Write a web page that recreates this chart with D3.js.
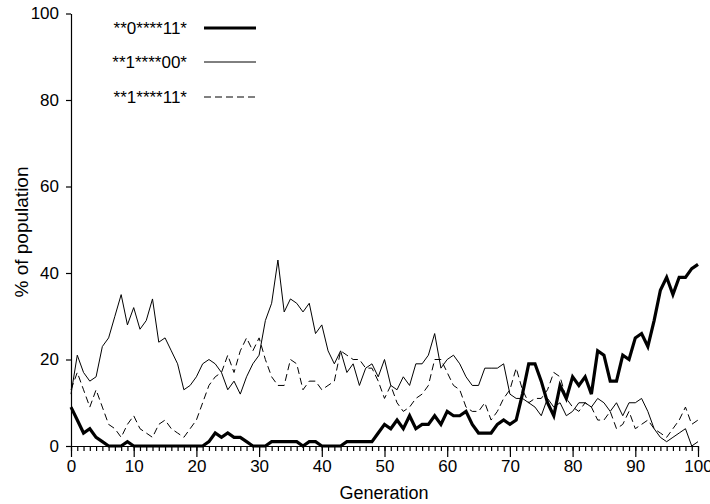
<!DOCTYPE html>
<html>
<head>
<meta charset="utf-8">
<script src="https://cdn.jsdelivr.net/npm/d3@7"></script>
<style>
  body { margin: 0; background: #fff; }
  text { font-family: "Liberation Sans", Arial, sans-serif; fill: #000; }
</style>
</head>
<body>
<svg width="710" height="504"></svg>
<script>
// generations 0..100
var generations = d3.range(0, 101);

// % of population per generation
var s0xx11 = [9,6,3,4,2,1,0,0,0,1,
  0,0,0,0,0,0,0,0,0,0,
  0,0,1,3,2,3,2,2,1,0,
  0,0,1,1,1,1,1,0,1,1,
  0,0,0,0,1,1,1,1,1,3,
  5,4,6,4,7,4,5,5,7,5,
  8,7,7,8,5,3,3,3,5,6,
  5,6,12,19,19,15,10,7,14,11,
  16,14,16,12,22,21,15,15,21,20,
  25,26,23,29,36,39,35,39,39,41,
  42];

var s1xx00 = [12,21,17,15,16,23,25,30,35,28,
  32,27,29,34,24,25,22,19,13,14,
  16,19,20,19,17,13,15,12,16,19,
  21,29,33,43,31,34,33,31,33,26,
  28,22,19,22,17,19,14,18,19,16,
  20,14,13,16,14,19,19,21,26,18,
  20,21,19,16,14,14,18,18,18,19,
  12,11,11,10,9,7,11,9,10,7,
  8,10,10,9,11,10,8,10,7,10,
  10,11,8,4,2,1,2,3,4,0,
  1];

var s1xx11 = [13,17,13,9,13,9,5,4,2,5,
  7,4,3,2,5,6,4,3,2,4,
  6,10,14,16,17,21,17,22,25,22,
  25,20,16,14,14,20,19,13,15,15,
  13,14,15,22,21,20,20,18,18,15,
  11,14,10,8,9,11,12,14,20,20,
  17,14,13,9,8,8,10,6,8,11,
  13,18,13,10,11,11,13,17,16,11,
  9,8,10,9,6,6,8,4,5,8,
  4,5,6,4,3,2,4,6,9,5,
  6];

var seriesNames = ["**0****11*", "**1****00*", "**1****11*"];
var yTicks = [0, 20, 40, 60, 80, 100];
var xTicks = [0, 10, 20, 30, 40, 50, 60, 70, 80, 90, 100];

var svg = d3.select("svg");

var x = d3.scaleLinear().domain([0, 100]).range([71, 698]);
var y = d3.scaleLinear().domain([0, 100]).range([446, 13.5]);

var styles = [
  {w: 3.2, dash: null},
  {w: 1, dash: null},
  {w: 1, dash: "7,4"}
];

// minor ticks
svg.append("g")
  .attr("transform", "translate(0,446)")
  .call(d3.axisBottom(x).tickValues(generations).tickSize(5).tickSizeOuter(0).tickFormat(""))
  .call(g => g.select(".domain").remove());

// major ticks + labels
svg.append("g")
  .attr("transform", "translate(0,446)")
  .call(d3.axisBottom(x).tickValues(xTicks).tickSize(11).tickSizeOuter(0).tickPadding(3))
  .call(g => g.selectAll("text").attr("font-size", 17).attr("font-family", null));

svg.append("g")
  .attr("transform", "translate(71,0)")
  .call(d3.axisLeft(y).tickValues(yTicks).tickSize(5).tickSizeOuter(0).tickPadding(7))
  .call(g => g.selectAll("text").attr("font-size", 17).attr("font-family", null));

svg.selectAll(".domain, .tick line").attr("stroke", "#000").attr("stroke-width", 1.2);

var line = d3.line()
  .x((d, i) => x(generations[i]))
  .y(d => y(d));

var allSeries = [s0xx11, s1xx00, s1xx11];

svg.selectAll(".series")
  .data(allSeries)
  .enter()
  .append("path")
  .attr("class", "series")
  .attr("fill", "none")
  .attr("stroke", "#000")
  .attr("stroke-linejoin", "miter")
  .attr("stroke-width", (d, i) => styles[i].w)
  .attr("stroke-dasharray", (d, i) => styles[i].dash)
  .attr("d", line);

// legend
var legend = svg.append("g");
var legendY = [28, 62, 97];
seriesNames.forEach(function(name, i) {
  legend.append("text")
    .attr("x", 187)
    .attr("y", legendY[i])
    .attr("dy", "0.35em")
    .attr("text-anchor", "end")
    .attr("font-size", 17)
    .text(name);
  legend.append("line")
    .attr("x1", 204).attr("x2", 256)
    .attr("y1", legendY[i]).attr("y2", legendY[i])
    .attr("stroke", "#000")
    .attr("stroke-width", styles[i].w)
    .attr("stroke-dasharray", styles[i].dash);
});

svg.append("text")
  .attr("x", 384)
  .attr("y", 499)
  .attr("text-anchor", "middle")
  .attr("font-size", 18)
  .text("Generation");

svg.append("text")
  .attr("transform", "translate(28,232) rotate(-90)")
  .attr("text-anchor", "middle")
  .attr("font-size", 19)
  .text("% of population");
</script>
</body>
</html>
